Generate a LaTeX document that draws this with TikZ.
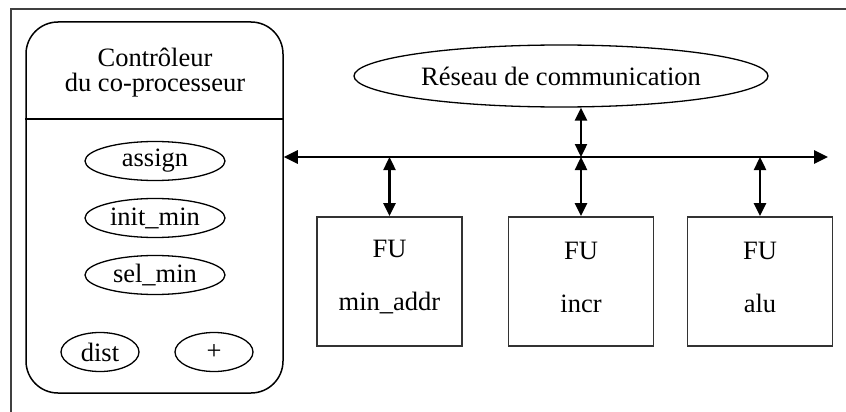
\documentclass[tikz,border=0pt]{standalone}
\usepackage{fontspec}
\setmainfont{Liberation Serif}
\usetikzlibrary{shapes.geometric,arrows.meta}
\begin{document}
\begin{tikzpicture}[x=1pt,y=-1pt,
  every node/.style={font=\fontsize{26.5}{25}\selectfont},
  op/.style={draw, ellipse, inner sep=0pt, line width=1.3pt, minimum height=39pt},
  fubox/.style={draw=black!80, line width=1.8pt, minimum width=145pt, minimum height=129pt, inner sep=0pt},
  futext/.style={align=center, inner sep=0pt},
  link/.style={line width=2.4pt, {Triangle[length=13pt,width=12pt]}-{Triangle[length=13pt,width=12pt]}},
]
\useasboundingbox (0,0) rectangle (846,412);
% outer frame
\draw[line width=1.8pt, black!75] (11,412) -- (11,9) -- (846,9);

% controller
\node[draw, rounded corners=32pt, line width=1.5pt, minimum width=257pt, minimum height=371pt, inner sep=0pt] (ctrl) at (154.5,207.5) {};
\node[align=center] (title) at (155,73) {Contrôleur\\du co-processeur};
\coordinate (div) at (0,119);
\draw[line width=1.8pt] (ctrl.west |- div) -- (ctrl.east |- div);

\node[op, minimum width=140pt] (assign) at (155,161) {assign};
\node[op, minimum width=140pt] (initmin) at (155,218) {init\_min};
\node[op, minimum width=140pt] (selmin) at (155,275) {sel\_min};
\node[op, minimum width=78pt] (dist) at (100,352) {dist};
\node[op, minimum width=78pt] (plus) at (214,352) {+};

% network
\node[draw, ellipse, line width=1.3pt, minimum width=414pt, minimum height=62pt, inner sep=0pt] (net) at (561,76) {Réseau de communication};

% functional units
\node[fubox] (fu1) at (389.5,281.5) {};
\node[fubox] (fu2) at (581,281.5) {};
\node[fubox] (fu3) at (760,281.5) {};
\node[futext] (t1) at ([yshift=4pt]fu1.center) {FU\\[28pt]min\_addr};
\node[futext] (t2) at ([yshift=4pt]fu2.center) {FU\\[28pt]incr};
\node[futext] (t3) at ([yshift=4pt]fu3.center) {FU\\[28pt]alu};

% bus
\coordinate (busL) at (ctrl.east |- 0,157);
\coordinate (busR) at (828,157);
\draw[line width=2.8pt, {Triangle[length=14pt,width=13pt]}-{Triangle[length=14pt,width=13pt]}] (busL) -- (busR);

\draw[link] (fu1.north |- busL) -- (fu1.north);
\draw[link] (fu2.north |- busL) -- (fu2.north);
\draw[link] (fu3.north |- busL) -- (fu3.north);
\draw[link] (fu2.north |- net.south) -- (fu2.north |- busL);
\end{tikzpicture}
\end{document}
